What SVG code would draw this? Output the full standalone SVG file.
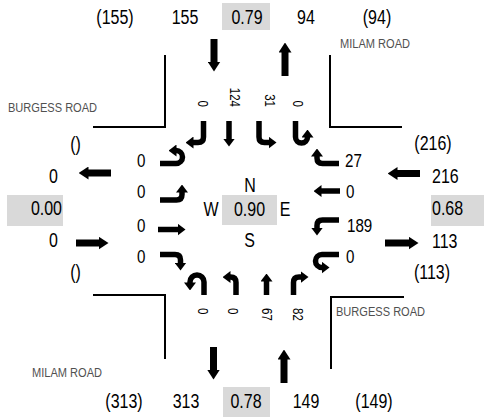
<svg xmlns="http://www.w3.org/2000/svg" width="484" height="418" viewBox="0 0 484 418">
<defs>
<style>
.t{font-family:"Liberation Sans",Arial,sans-serif;font-size:19.5px;fill:#000}
.l{font-family:"Liberation Sans",Arial,sans-serif;font-size:18.5px;fill:#000}
.r{font-family:"Liberation Sans",Arial,sans-serif;font-size:14px;fill:#000}
.rd{font-family:"Liberation Sans",Arial,sans-serif;font-size:13.5px;fill:#505050}
.m{text-anchor:middle}
.e{text-anchor:end}
.box{fill:#d9d9d9}
.edge{fill:none;stroke:#000;stroke-width:2}
.sm{fill:none;stroke:#000;stroke-width:5.5;marker-end:url(#ah)}
.bg{fill:none;stroke:#000;stroke-width:7;marker-end:url(#bh)}
</style>
<marker id="ah" markerUnits="userSpaceOnUse" viewBox="0 0 8 12" markerWidth="8" markerHeight="12" refX="0.5" refY="6" orient="auto"><path d="M0,0 L8,6 L0,12 Z" fill="#000"/></marker>
<marker id="bh" markerUnits="userSpaceOnUse" viewBox="0 0 10 13" markerWidth="10" markerHeight="13" refX="0.5" refY="6.5" orient="auto"><path d="M0,0 L10,6.5 L0,13 Z" fill="#000"/></marker>
</defs>
<rect width="484" height="418" fill="#fff"/>

<g id="connectors">
<path class="edge" d="M165,55 L165,127 L93,127"/>
<path class="edge" d="M330,55 L330,127 L402,127"/>
<path class="edge" d="M93,295 L165,295 L165,359"/>
<path class="edge" d="M404,297 L331,297 L331,369"/>
</g>

<g id="road-labels">
<text class="rd" transform="translate(8 112) scale(0.82 1)">BURGESS ROAD</text>
<text class="rd" transform="translate(340 48) scale(0.82 1)">MILAM ROAD</text>
<text class="rd" transform="translate(336 316) scale(0.82 1)">BURGESS ROAD</text>
<text class="rd" transform="translate(32 377) scale(0.82 1)">MILAM ROAD</text>
</g>

<g id="north">
<text class="t m" transform="translate(115 24) scale(0.82 1)">(155)</text>
<text class="t m" transform="translate(185 24) scale(0.82 1)">155</text>
<rect class="box" x="222" y="3" width="48" height="27"/>
<text class="t m" transform="translate(247 24) scale(0.82 1)">0.79</text>
<text class="t m" transform="translate(306 24) scale(0.82 1)">94</text>
<text class="t m" transform="translate(377 24) scale(0.82 1)">(94)</text>
<path class="bg" d="M214,39 L214,62"/>
<path class="bg" d="M285,76 L285,52"/>
<text class="r e" transform="translate(198 107) rotate(90) scale(0.82 1)">0</text>
<text class="r e" transform="translate(230 107) rotate(90) scale(0.82 1)">124</text>
<text class="r e" transform="translate(265 107) rotate(90) scale(0.82 1)">31</text>
<text class="r e" transform="translate(293 107) rotate(90) scale(0.82 1)">0</text>
<path class="sm" d="M203.5,121 L203.5,137 Q203.5,142.5 198,142.5 L193,142.5"/>
<path class="sm" d="M229,121 L229,139"/>
<path class="sm" d="M259,121 L259,137 Q259,142.5 264.5,142.5 L269,142.5"/>
<path class="sm" d="M295.5,121 L295.5,137 A6,6 0 0 0 307.5,137"/>
</g>

<g id="south">
<text class="t m" transform="translate(124 408) scale(0.82 1)">(313)</text>
<text class="t m" transform="translate(186 408) scale(0.82 1)">313</text>
<rect class="box" x="223" y="387" width="47" height="30"/>
<text class="t m" transform="translate(246 408) scale(0.82 1)">0.78</text>
<text class="t m" transform="translate(306 408) scale(0.82 1)">149</text>
<text class="t m" transform="translate(374 408) scale(0.82 1)">(149)</text>
<path class="bg" d="M213.5,347 L213.5,370"/>
<path class="bg" d="M284,383 L284,359"/>
<text class="r" transform="translate(198 308) rotate(90) scale(0.82 1)">0</text>
<text class="r" transform="translate(228 308) rotate(90) scale(0.82 1)">0</text>
<text class="r" transform="translate(262 308) rotate(90) scale(0.82 1)">67</text>
<text class="r" transform="translate(293 308) rotate(90) scale(0.82 1)">82</text>
<path class="sm" d="M204,295 L204,282 A7,7 0 0 0 190,282 L190,283"/>
<path class="sm" d="M236,295 L236,282.5 Q236,277 230.5,277 L230,277"/>
<path class="sm" d="M266.5,295 L266.5,281"/>
<path class="sm" d="M293.5,295 L293.5,282.5 Q293.5,277 299,277 L301,277"/>
</g>

<g id="west">
<text class="t m" transform="translate(75.5 151) scale(0.82 1)">()</text>
<text class="t m" transform="translate(53.5 183) scale(0.82 1)">0</text>
<rect class="box" x="7" y="195" width="56" height="31"/>
<text class="t e" transform="translate(62 215) scale(0.82 1)">0.00</text>
<text class="t m" transform="translate(53.5 247) scale(0.82 1)">0</text>
<text class="t m" transform="translate(75.5 279) scale(0.82 1)">()</text>
<path class="bg" d="M111,173 L88,173"/>
<path class="bg" d="M76,243 L99,243"/>
<text class="l" transform="translate(137 167) scale(0.82 1)">0</text>
<text class="l" transform="translate(137 198) scale(0.82 1)">0</text>
<text class="l" transform="translate(137 232) scale(0.82 1)">0</text>
<text class="l" transform="translate(137 263) scale(0.82 1)">0</text>
<path class="sm" d="M160,163.5 L176,163.5 A6.5,6.5 0 0 0 176,150.5"/>
<path class="sm" d="M160,200 L176.5,200 Q182,200 182,194.5 L182,192"/>
<path class="sm" d="M158,229.5 L178,229.5"/>
<path class="sm" d="M160,254.5 L175,254.5 Q180.5,254.5 180.5,260 L180.5,263"/>
</g>

<g id="east">
<text class="t m" transform="translate(433 150) scale(0.82 1)">(216)</text>
<text class="t" transform="translate(432 183) scale(0.82 1)">216</text>
<rect class="box" x="431" y="195" width="56" height="31"/>
<text class="t" transform="translate(432 215) scale(0.82 1)">0.68</text>
<text class="t" transform="translate(432 248) scale(0.82 1)">113</text>
<text class="t m" transform="translate(432 279) scale(0.82 1)">(113)</text>
<path class="bg" d="M420,173.5 L397,173.5"/>
<path class="bg" d="M385,243 L409,243"/>
<text class="l" transform="translate(345 167) scale(0.82 1)">27</text>
<text class="l" transform="translate(346 198) scale(0.82 1)">0</text>
<text class="l" transform="translate(347 232) scale(0.82 1)">189</text>
<text class="l" transform="translate(346 263) scale(0.82 1)">0</text>
<path class="sm" d="M339,163.5 L322.5,163.5 Q317,163.5 317,158 L317,156"/>
<path class="sm" d="M340,191 L321,191"/>
<path class="sm" d="M339,220 L322.5,220 Q317,220 317,225.5 L317,228"/>
<path class="sm" d="M339,254.5 L322,254.5 A6.5,6.5 0 0 0 322,267.5"/>
</g>

<g id="center">
<text class="t m" transform="translate(250 192) scale(0.82 1)">N</text>
<text class="t m" transform="translate(211 216) scale(0.82 1)">W</text>
<rect class="box" x="222" y="195" width="55" height="30"/>
<text class="t m" transform="translate(249.5 216) scale(0.82 1)">0.90</text>
<text class="t m" transform="translate(285 216) scale(0.82 1)">E</text>
<text class="t m" transform="translate(249.5 247) scale(0.82 1)">S</text>
</g>
</svg>
